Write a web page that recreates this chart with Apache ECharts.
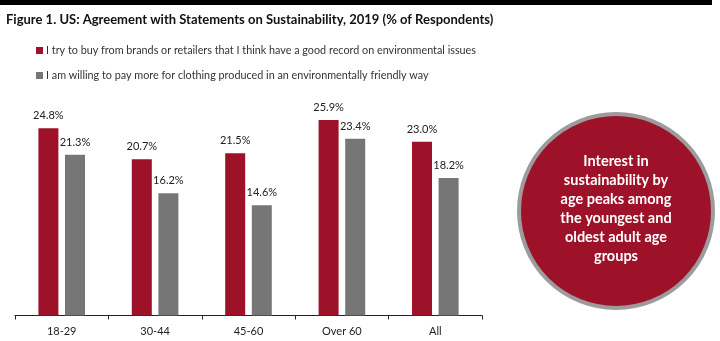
<!DOCTYPE html>
<html>
<head>
<meta charset="utf-8">
<script src="https://cdn.jsdelivr.net/npm/echarts@6/dist/echarts.min.js"></script>
<style>
  html, body { margin: 0; padding: 0; background: #fff; }
  #chart { width: 720px; height: 341px; }
</style>
</head>
<body>
<div id="chart"></div>
<script>
// Age groups on the x axis
const categories = ['18-29', '30-44', '45-60', 'Over 60', 'All'];
// Share of respondents agreeing (%)
const buyGoodRecord = [24.8, 20.7, 21.5, 25.9, 23.0];
const payMoreClothing = [21.3, 16.2, 14.6, 23.4, 18.2];
const seriesNames = [
  'I try to buy from brands or retailers that I think have a good record on environmental issues',
  'I am willing to pay more for clothing produced in an environmentally friendly way'
];
const titleText = 'Figure 1. US: Agreement with Statements on Sustainability, 2019 (% of Respondents)';
const calloutLines = ['Interest in', 'sustainability by', 'age peaks among', 'the youngest and', 'oldest adult age', 'groups'];

const RED = '#9E1229';
const GRAY = '#767676';
const FONT = 'Lato, "Open Sans", sans-serif';

const chart = echarts.init(document.getElementById('chart'), null, { renderer: 'canvas' });

const labelCfg = {
  show: true,
  position: 'top',
  distance: 7,
  color: '#222',
  fontFamily: FONT,
  fontSize: 11,
  formatter: p => p.value.toFixed(1) + '%'
};

chart.setOption({
  animation: false,
  backgroundColor: '#fff',
  title: {
    text: titleText,
    left: 1,
    top: 8,
    textStyle: { fontFamily: FONT, fontWeight: 'bold', fontSize: 13, color: '#111' }
  },
  legend: {
    orient: 'vertical',
    left: 31,
    top: 39,
    itemWidth: 7,
    itemHeight: 7,
    itemGap: 12,
    icon: 'rect',
    selectedMode: false,
    textStyle: { fontFamily: FONT, fontSize: 10.8, color: '#333', padding: [0, 0, 0, -2], lineHeight: 13 },
    data: seriesNames
  },
  grid: { left: 15, right: 238, top: 89, bottom: 25.5, containLabel: false },
  xAxis: {
    type: 'category',
    data: categories,
    axisLine: { lineStyle: { color: '#222', width: 1 } },
    axisTick: { show: true, length: 4, lineStyle: { color: '#222' } },
    axisLabel: { fontFamily: FONT, fontSize: 11, color: '#222', margin: 10 }
  },
  yAxis: {
    type: 'value',
    min: 0,
    max: 30,
    show: false,
    splitLine: { show: false }
  },
  series: [
    {
      name: seriesNames[0],
      type: 'bar',
      data: buyGoodRecord,
      itemStyle: { color: RED },
      barWidth: 20,
      barGap: '33%',
      label: labelCfg
    },
    {
      name: seriesNames[1],
      type: 'bar',
      data: payMoreClothing,
      itemStyle: { color: GRAY },
      barWidth: 20,
      label: labelCfg
    }
  ],
  graphic: [
    {
      type: 'rect',
      shape: { x: 0, y: 0, width: 712, height: 5 },
      style: { fill: '#000' }
    },
    {
      type: 'circle',
      shape: { cx: 616, cy: 211, r: 97 },
      style: { fill: RED, stroke: '#9c9c9c', lineWidth: 4 }
    },
    {
      type: 'text',
      x: 616,
      y: 209,
      style: {
        text: calloutLines.join('\n'),
        fill: '#fff',
        font: 'bold 14.5px ' + FONT,
        lineHeight: 19,
        align: 'center',
        verticalAlign: 'middle'
      }
    }
  ]
});
</script>
</body>
</html>
